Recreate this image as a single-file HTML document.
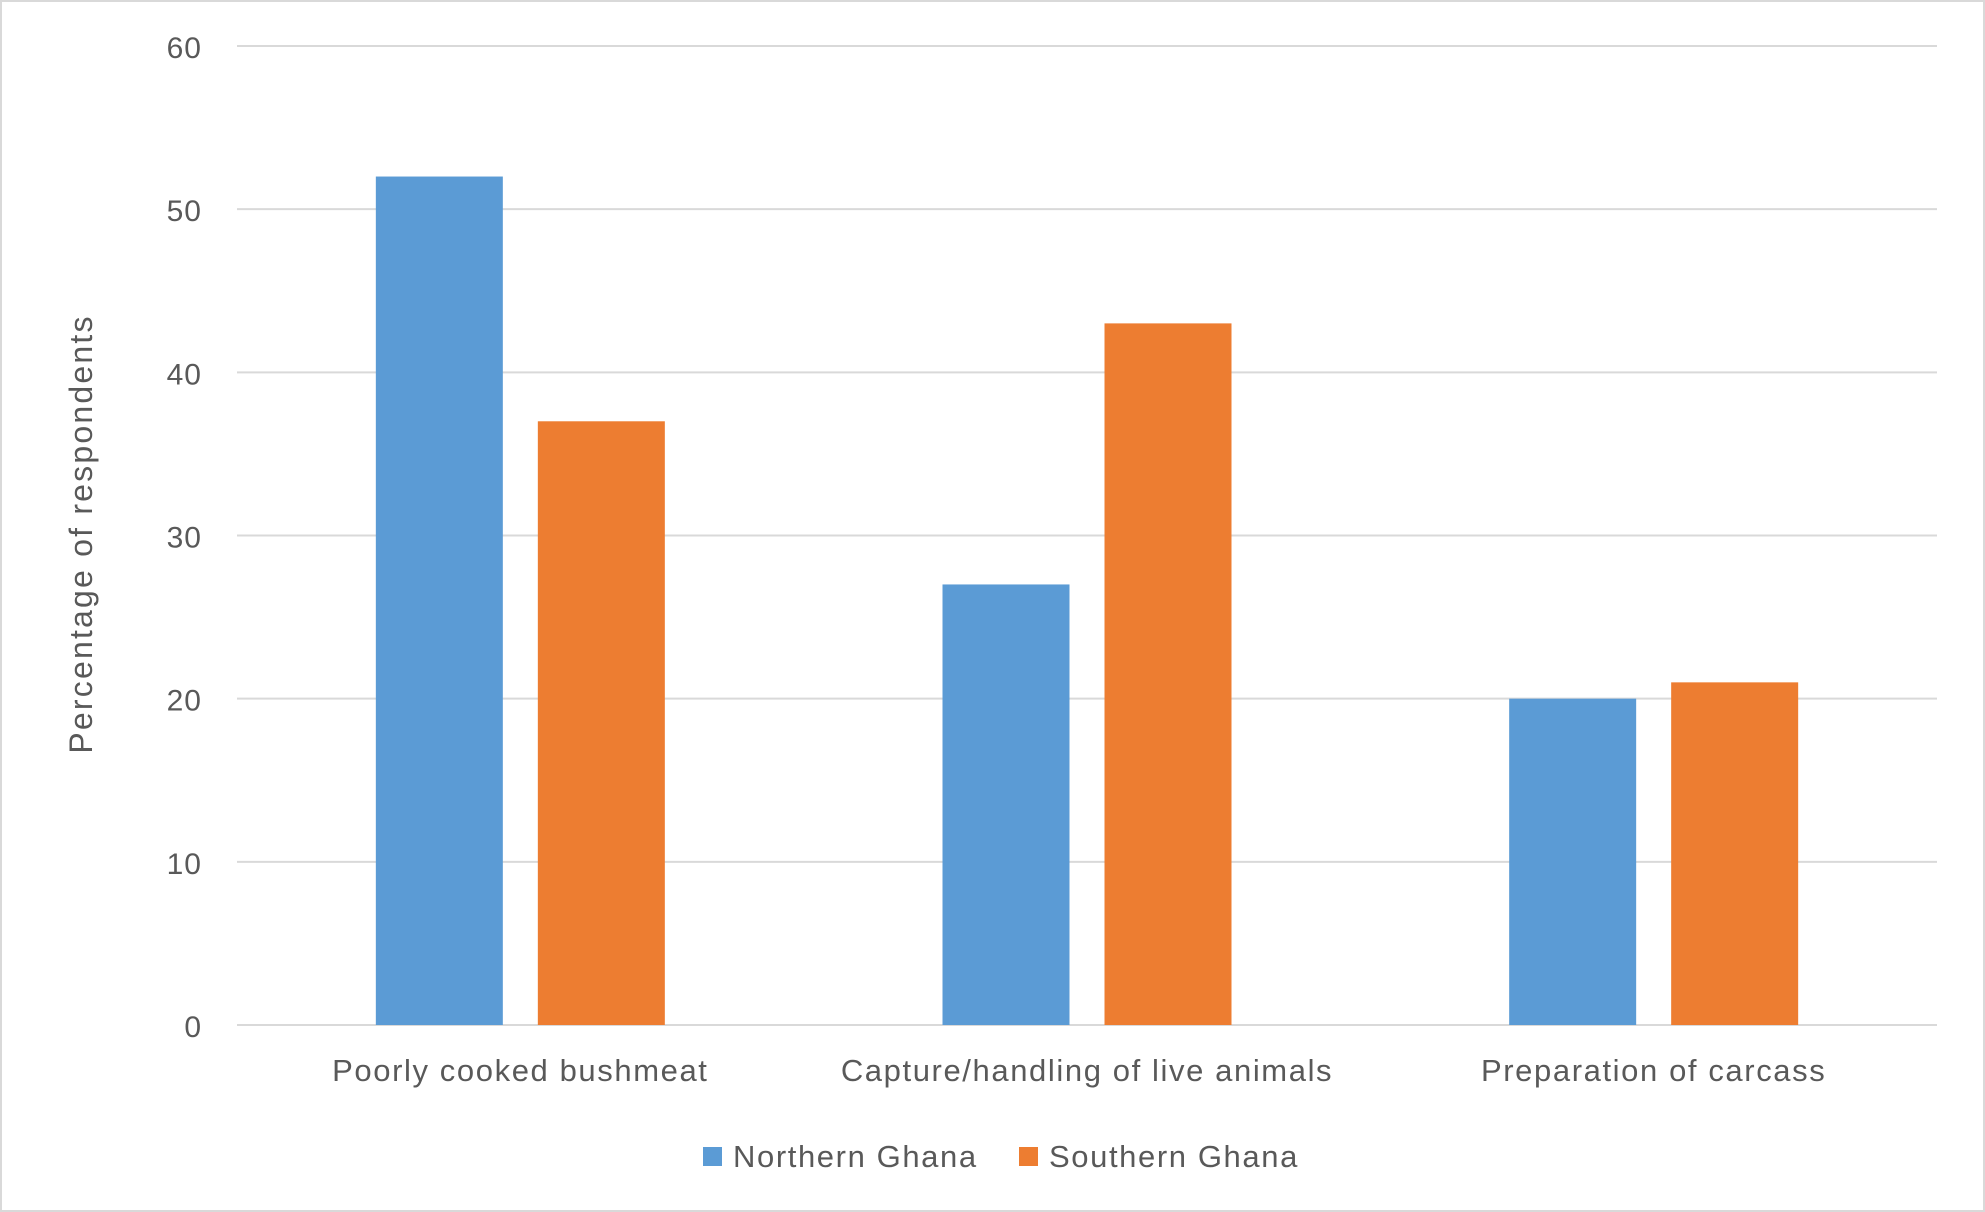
<!DOCTYPE html>
<html><head><meta charset="utf-8"><style>
html,body{margin:0;padding:0;background:#fff}
svg{display:block;font-family:"Liberation Sans",Calibri,sans-serif}
</style></head><body>
<svg id="chart" width="1985" height="1212" viewBox="0 0 1985 1212">
<rect x="1" y="1" width="1983" height="1210" fill="#fff" stroke="#d9d9d9" stroke-width="2"/>
<g id="grid"></g><g id="bars"></g><g id="labels"></g>
<text transform="translate(92,534) rotate(-90)" text-anchor="middle" font-size="32" letter-spacing="2.2" fill="#595959">Percentage of respondents</text>
<g>
<rect x="703" y="1147" width="19" height="19" fill="#5B9BD5"/>
<text x="733" y="1167" font-size="31" letter-spacing="1.6" fill="#595959">Northern Ghana</text>
<rect x="1019" y="1147" width="19" height="19" fill="#ED7D31"/>
<text x="1049" y="1167" font-size="31" letter-spacing="1.6" fill="#595959">Southern Ghana</text>
</g>
</svg>
<script>
const categories = ["Poorly cooked bushmeat","Capture/handling of live animals","Preparation of carcass"];
const northern = [52, 27, 20];
const southern = [37, 43, 21];
const ticks = [0,10,20,30,40,50,60];
const NS="http://www.w3.org/2000/svg";
const L=237,R=1937,Y0=1025,Y60=46;
const y=v=>Y0-(Y0-Y60)*v/60;
const cw=(R-L)/categories.length;
function mk(t,a,p){const e=document.createElementNS(NS,t);for(const k in a)e.setAttribute(k,a[k]);p.appendChild(e);return e;}
const g=document.getElementById('grid'),b=document.getElementById('bars'),lb=document.getElementById('labels');
ticks.forEach(t=>{
 const l=mk('line',{x1:L,x2:R,y1:y(t),y2:y(t),stroke:'#d9d9d9','stroke-width':2},g);
 
 
 const tx=mk('text',{x:202,y:y(t)+12,'text-anchor':'end','font-size':30,'letter-spacing':1,fill:'#595959'},lb);
 tx.textContent=t;
 
 
});
const bw=127,gap=35;
categories.forEach((c,i)=>{
 const cx=L+cw*(i+0.5);
 const x1=cx-gap/2-bw, x2=cx+gap/2;
 const r1=mk('rect',{x:x1,y:y(northern[i]),width:bw,height:Y0-y(northern[i]),fill:'#5B9BD5'},b);
 
 
 const r2=mk('rect',{x:x2,y:y(southern[i]),width:bw,height:Y0-y(southern[i]),fill:'#ED7D31'},b);
 
 
 const t=mk('text',{x:cx,y:1081,'text-anchor':'middle','font-size':31,'letter-spacing':1.6,fill:'#595959'},lb);
 t.textContent=c;
 
 
});
</script>
</body></html>
